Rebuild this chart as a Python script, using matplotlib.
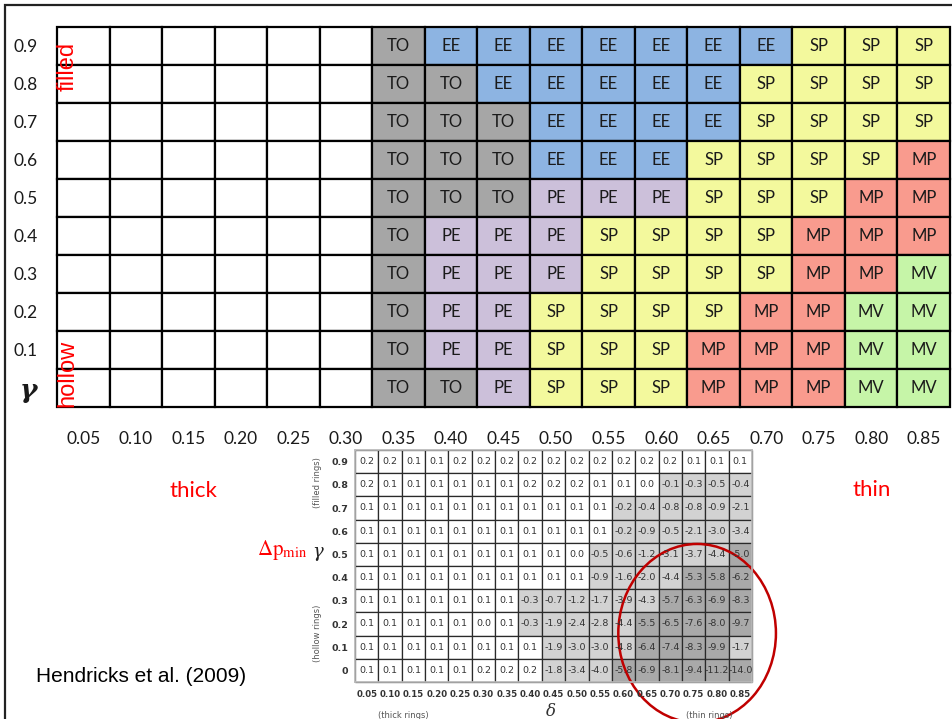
import numpy as np
import matplotlib
matplotlib.use("Agg")
import matplotlib.pyplot as plt
from matplotlib.patches import Rectangle, Ellipse

# shell thickness delta (columns) and filling gamma (rows, top to bottom)
delta_labels = ["0.05", "0.10", "0.15", "0.20", "0.25", "0.30", "0.35", "0.40", "0.45",
                "0.50", "0.55", "0.60", "0.65", "0.70", "0.75", "0.80", "0.85"]
gamma_labels = ["0.9", "0.8", "0.7", "0.6", "0.5", "0.4", "0.3", "0.2", "0.1", "γ"]
gamma_labels_small = ["0.9", "0.8", "0.7", "0.6", "0.5", "0.4", "0.3", "0.2", "0.1", "0"]

# mode classification, one string per row ("" = not computed)
modes = [
    "      TO EE EE EE EE EE EE EE SP SP SP",
    "      TO TO EE EE EE EE EE SP SP SP SP",
    "      TO TO TO EE EE EE EE SP SP SP SP",
    "      TO TO TO EE EE EE SP SP SP SP MP",
    "      TO TO TO PE PE PE SP SP SP MP MP",
    "      TO PE PE PE SP SP SP SP MP MP MP",
    "      TO PE PE PE SP SP SP SP MP MP MV",
    "      TO PE PE SP SP SP SP MP MP MV MV",
    "      TO PE PE SP SP SP MP MP MP MV MV",
    "      TO TO PE SP SP SP MP MP MP MV MV",
]
n_empty = 6

mode_colors = {
    "TO": "#a6a6a6",
    "EE": "#8db4e2",
    "PE": "#ccc0da",
    "SP": "#f3f99d",
    "MP": "#f99b8e",
    "MV": "#c6f5a8",
}

# Hendricks et al. (2009) dp_min table
dp_min = [
    [0.2, 0.2, 0.1, 0.1, 0.2, 0.2, 0.2, 0.2, 0.2, 0.2, 0.2, 0.2, 0.2, 0.2, 0.1, 0.1, 0.1],
    [0.2, 0.1, 0.1, 0.1, 0.1, 0.1, 0.1, 0.2, 0.2, 0.2, 0.1, 0.1, 0.0, -0.1, -0.3, -0.5, -0.4],
    [0.1, 0.1, 0.1, 0.1, 0.1, 0.1, 0.1, 0.1, 0.1, 0.1, 0.1, -0.2, -0.4, -0.8, -0.8, -0.9, -2.1],
    [0.1, 0.1, 0.1, 0.1, 0.1, 0.1, 0.1, 0.1, 0.1, 0.1, 0.1, -0.2, -0.9, -0.5, -2.1, -3.0, -3.4],
    [0.1, 0.1, 0.1, 0.1, 0.1, 0.1, 0.1, 0.1, 0.1, 0.0, -0.5, -0.6, -1.2, -3.1, -3.7, -4.4, -5.0],
    [0.1, 0.1, 0.1, 0.1, 0.1, 0.1, 0.1, 0.1, 0.1, 0.1, -0.9, -1.6, -2.0, -4.4, -5.3, -5.8, -6.2],
    [0.1, 0.1, 0.1, 0.1, 0.1, 0.1, 0.1, -0.3, -0.7, -1.2, -1.7, -3.9, -4.3, -5.7, -6.3, -6.9, -8.3],
    [0.1, 0.1, 0.1, 0.1, 0.1, 0.0, 0.1, -0.3, -1.9, -2.4, -2.8, -4.4, -5.5, -6.5, -7.6, -8.0, -9.7],
    [0.1, 0.1, 0.1, 0.1, 0.1, 0.1, 0.1, 0.1, -1.9, -3.0, -3.0, -4.8, -6.4, -7.4, -8.3, -9.9, -1.7],
    [0.1, 0.1, 0.1, 0.1, 0.1, 0.2, 0.2, 0.2, -1.8, -3.4, -4.0, -5.8, -6.9, -8.1, -9.4, -11.2, -14.0],
]

W, H = 953, 719
fig = plt.figure(figsize=(W / 100, H / 100), dpi=100)


def px_box(left, top, right, bottom):
    return [left / W, 1 - bottom / H, (right - left) / W, (bottom - top) / H]


n_rows, n_cols = len(gamma_labels), len(delta_labels)

# ---- mode grid ----
ax = fig.add_axes(px_box(57, 27, 950, 407))
ax.set_xlim(0, n_cols)
ax.set_ylim(0, n_rows)
for i, row in enumerate(modes):
    cells = [""] * n_empty + row.split()
    y = n_rows - 1 - i
    for j, m in enumerate(cells):
        ax.add_patch(Rectangle((j, y), 1, 1, facecolor=mode_colors.get(m, "white"),
                               edgecolor="black", lw=1.6, clip_on=False))
        if m:
            ax.text(j + 0.5, y + 0.5, m, ha="center", va="center",
                    fontsize=12, family="Lato", color="#1a1a1a")

ax.set_xticks(np.arange(n_cols) + 0.5, labels=delta_labels)
ax.set_yticks(np.arange(n_rows) + 0.5, labels=gamma_labels[::-1])
ax.tick_params(axis="x", length=0, pad=17, labelsize=12.5)
ax.tick_params(axis="y", length=0, pad=14, labelsize=12.5)
for lbl in ax.get_xticklabels() + ax.get_yticklabels():
    lbl.set_family("Lato")
    lbl.set_color("#1a1a1a")
g = ax.get_yticklabels()[0]
g.set_family("DejaVu Serif")
g.set_fontsize(19)
g.set_fontweight("bold")
g.set_fontstyle("italic")
for s in ax.spines.values():
    s.set_visible(False)

ax.text(0.2, 8.32, "filled", rotation=90, ha="center", va="bottom", color="red",
        fontsize=17, family="Liberation Sans")
ax.text(0.2, 0.0, "hollow", rotation=90, ha="center", va="bottom", color="red",
        fontsize=17, family="Liberation Sans")

# ---- dp_min table ----
tx = fig.add_axes(px_box(355, 450, 752, 682))
tx.set_xlim(0, n_cols)
tx.set_ylim(0, n_rows)
for i, row in enumerate(dp_min):
    y = n_rows - 1 - i
    for j, v in enumerate(row):
        if v >= 0:
            fc = "white"
        elif v > -5:
            fc = "#d2d2d2"
        else:
            fc = "#a9a9a9"
        tx.add_patch(Rectangle((j, y), 1, 1, facecolor=fc, edgecolor="#2a2a2a",
                               lw=0.9, clip_on=False))
        tx.text(j + 0.5, y + 0.5, f"{v:.1f}", ha="center", va="center",
                fontsize=6.8, family="Liberation Sans Narrow", color="#333333")

tx.set_xticks(np.arange(n_cols) + 0.5, labels=delta_labels)
tx.set_yticks(np.arange(n_rows) + 0.5, labels=gamma_labels_small[::-1])
tx.tick_params(axis="both", length=0, colors="#333333")
tx.tick_params(axis="x", pad=6, labelsize=6.2)
tx.tick_params(axis="y", pad=5, labelsize=6.8)
for lbl in tx.get_xticklabels() + tx.get_yticklabels():
    lbl.set_fontweight("bold")
    lbl.set_family("Liberation Sans Narrow")
for s in tx.spines.values():
    s.set_color("#bbbbbb")
    s.set_linewidth(1.2)

tx.text(-1.6, 8.6, "(filled rings)", rotation=90, ha="center", va="center",
        fontsize=6, color="#555555")
tx.text(-1.6, 2.1, "(hollow rings)", rotation=90, ha="center", va="center",
        fontsize=6, color="#555555")
tx.text(2.05, -1.45, "(thick rings)", ha="center", va="center", fontsize=6, color="#555555")
tx.text(15.15, -1.45, "(thin rings)", ha="center", va="center", fontsize=6, color="#555555")
tx.text(8.4, -1.25, "δ", ha="center", va="center", fontsize=12, style="italic",
        family="DejaVu Serif", color="#333333")

# highlight of the thin-shell / low-gamma corner
tx.add_patch(Ellipse((14.65, 2.1), 6.75, 7.7, facecolor="none", edgecolor="#c00000",
                     lw=1.8, clip_on=False))

# ---- annotations ----
fig.text(193 / W, 1 - 491 / H, "thick", ha="center", va="center", color="red",
         fontsize=16, family="Lato")
fig.text(872 / W, 1 - 490 / H, "thin", ha="center", va="center", color="red",
         fontsize=16, family="Lato")
fig.text(257 / W, 1 - 550 / H, r"$\Delta\mathrm{p}_{\mathrm{min}}$", ha="left", va="center",
         color="red", fontsize=15, math_fontfamily="stix")
fig.text(318 / W, 1 - 552 / H, "γ", ha="center", va="center", color="#222222",
         fontsize=13, style="italic", family="DejaVu Serif")
fig.text(36 / W, 1 - 677 / H, "Hendricks et al. (2009)", ha="left", va="center",
         fontsize=15, family="Liberation Sans")

# outer frame
fig.add_artist(Rectangle((5 / W, -0.1), 1.1, 1 - 5 / H + 0.1, transform=fig.transFigure,
                         fill=False, edgecolor="#222222", lw=1.6))

fig.savefig("out.png", dpi=100)
